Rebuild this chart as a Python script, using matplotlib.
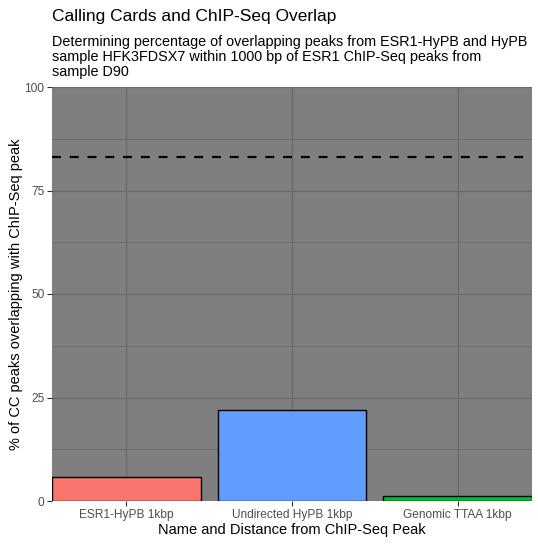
import matplotlib.pyplot as plt
import numpy as np

plt.rcParams['font.family'] = ['Liberation Sans', 'DejaVu Sans']

names = ['ESR1-HyPB 1kbp', 'Undirected HyPB 1kbp', 'Genomic TTAA 1kbp']
pct = [5.8, 22.0, 1.2]
colors = ['#F8766D', '#619CFF', '#00BA38']
chip_line = 83.0
yticks = [0, 25, 50, 75, 100]

fig = plt.figure(figsize=(5.38, 5.46), dpi=100)
ax = fig.add_axes([52/538, 1-501/546, 480/538, 414/546])
ax.set_facecolor('#7F7F7F')

x = np.arange(1, len(names)+1)
ax.bar(x, pct, width=0.9, color=colors, edgecolor='black', linewidth=1, zorder=3)
ax.axhline(chip_line, color='black', linestyle=(0, (4, 4)), linewidth=1.6, zorder=4)

ax.set_xlim(0.55, 3.45)
ax.set_ylim(0, 100)
ax.set_xticks(x)
ax.set_xticklabels(names)
ax.set_yticks(yticks)
ax.set_yticks([12.5, 37.5, 62.5, 87.5], minor=True)
ax.set_xticks([], minor=True)
ax.grid(True, which='major', color='#696969', linewidth=0.9, zorder=0)
ax.grid(True, which='minor', axis='y', color='#696969', linewidth=0.6, zorder=0)
for s in ax.spines.values():
    s.set_visible(False)
ax.tick_params(axis='both', which='major', length=3.5, color='#333333', labelcolor='#4D4D4D', labelsize=8.6, pad=2)
ax.tick_params(axis='both', which='minor', length=0)

ax.set_xlabel('Name and Distance from ChIP-Seq Peak', fontsize=10.5, labelpad=2)
ax.set_ylabel('% of CC peaks overlapping with ChIP-Seq peak', fontsize=10.5, labelpad=1)

fig.text(52/538, 1-17/546, 'Calling Cards and ChIP-Seq Overlap', fontsize=12.5, va='center', ha='left')
fig.text(52/538, 1-57/546,
         'Determining percentage of overlapping peaks from ESR1-HyPB and HyPB\n'
         'sample HFK3FDSX7 within 1000 bp of ESR1 ChIP-Seq peaks from\n'
         'sample D90', fontsize=10.4, va='center', ha='left', linespacing=1.05)

fig.savefig('out.png', dpi=100)
